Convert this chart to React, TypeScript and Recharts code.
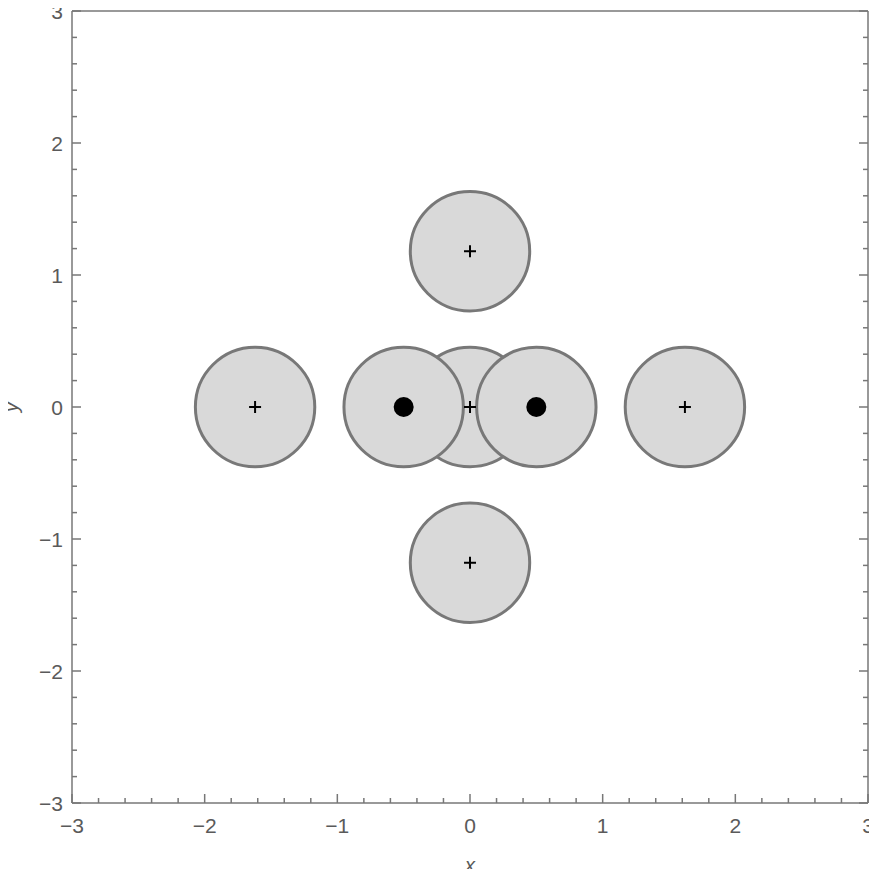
import React from 'react';
import { ScatterChart, Scatter, XAxis, YAxis } from 'recharts';

// ---- data ----
const circleX = [0, -1.62, -0.5, 0.5, 1.62, 0, 0];
const circleY = [0, 0, 0, 0, 0, 1.18, -1.18];
const crossX = [0, -1.62, 0, 1.62, 0];
const crossY = [1.18, 0, 0, 0, -1.18];
const dotX = [-0.5, 0.5];
const dotY = [0, 0];
const CIRCLE_RADIUS = 0.45; // data units

const majorTicks = [-3, -2, -1, 0, 1, 2, 3];
const minorTicks = [
  -2.8, -2.6, -2.4, -2.2, -1.8, -1.6, -1.4, -1.2, -0.8, -0.6, -0.4, -0.2,
  0.2, 0.4, 0.6, 0.8, 1.2, 1.4, 1.6, 1.8, 2.2, 2.4, 2.6, 2.8,
];
const allTicks = [...majorTicks, ...minorTicks];

const toPoints = (xs: number[], ys: number[]) => xs.map((x, i) => ({ x, y: ys[i] }));
const circles = toPoints(circleX, circleY);
const crosses = toPoints(crossX, crossY);
const dots = toPoints(dotX, dotY);

// ---- layout ----
const W = 877;
const H = 877;
const M = { top: 10, right: 8, bottom: 0, left: 0 };
const Y_AXIS_W = 72;
const X_AXIS_H = 74;
const PLOT_W = W - M.left - M.right - Y_AXIS_W - 1;
const PX_PER_UNIT = PLOT_W / 6;

const FRAME = '#777777';
const TEXT = '#5a5a5a';
const FONT = "'Liberation Sans', Arial, sans-serif";
const MAJOR_LEN = 9;
const MINOR_LEN = 5;

const isMajor = (v: number) => majorTicks.includes(v);
const fmt = (v: number) => (v < 0 ? '\u2212' + Math.abs(v) : String(v));

const BottomTick = (p: any) => {
  const v = p.payload.value;
  const len = isMajor(v) ? MAJOR_LEN : MINOR_LEN;
  return (
    <g>
      <line x1={p.x} x2={p.x} y1={p.y} y2={p.y - len} stroke={FRAME} strokeWidth={1.5} />
      {isMajor(v) && (
        <text x={p.x} y={p.y + 30} textAnchor="middle" fill={TEXT} fontSize={21} fontFamily={FONT}>
          {fmt(v)}
        </text>
      )}
    </g>
  );
};
const TopTick = (p: any) => {
  const v = p.payload.value;
  const len = isMajor(v) ? MAJOR_LEN : MINOR_LEN;
  return <line x1={p.x} x2={p.x} y1={p.y} y2={p.y + len} stroke={FRAME} strokeWidth={1.5} />;
};
const LeftTick = (p: any) => {
  const v = p.payload.value;
  const len = isMajor(v) ? MAJOR_LEN : MINOR_LEN;
  return (
    <g>
      <line x1={p.x} x2={p.x + len} y1={p.y} y2={p.y} stroke={FRAME} strokeWidth={1.5} />
      {isMajor(v) && (
        <text x={p.x - 9} y={p.y} dy="0.36em" textAnchor="end" fill={TEXT} fontSize={21} fontFamily={FONT}>
          {fmt(v)}
        </text>
      )}
    </g>
  );
};
const RightTick = (p: any) => {
  const v = p.payload.value;
  const len = isMajor(v) ? MAJOR_LEN : MINOR_LEN;
  return <line x1={p.x} x2={p.x - len} y1={p.y} y2={p.y} stroke={FRAME} strokeWidth={1.5} />;
};

const CircleShape = (p: any) => (
  <circle cx={p.cx} cy={p.cy} r={CIRCLE_RADIUS * PX_PER_UNIT} fill="#d9d9d9" stroke="#787878" strokeWidth={3} />
);
const CrossShape = (p: any) => (
  <g stroke="#000" strokeWidth={2}>
    <line x1={p.cx - 6} x2={p.cx + 6} y1={p.cy} y2={p.cy} />
    <line x1={p.cx} x2={p.cx} y1={p.cy - 6} y2={p.cy + 6} />
  </g>
);
const DotShape = (p: any) => <circle cx={p.cx} cy={p.cy} r={10} fill="#000" />;

const XLabel = (props: any) => {
  const vb = props.viewBox;
  return (
    <text x={vb.x + vb.width / 2} y={vb.y + vb.height - 5} textAnchor="middle" fill={TEXT}
      fontSize={20} fontStyle="italic" fontFamily={FONT}>
      x
    </text>
  );
};
const YLabel = (props: any) => {
  const vb = props.viewBox;
  const cx = vb.x + 11;
  const cy = vb.y + vb.height / 2;
  return (
    <text x={cx} y={cy} textAnchor="middle" dominantBaseline="central" fill={TEXT}
      fontSize={20} fontStyle="italic" fontFamily={FONT} transform={`rotate(-90, ${cx}, ${cy})`}>
      y
    </text>
  );
};

export default function App() {
  const axisLine = { stroke: FRAME, strokeWidth: 1.5 };
  return (
    <div style={{ width: W, height: H, margin: -8, background: '#fff' }}>
      <ScatterChart width={W} height={H} margin={M} style={{ overflow: 'visible' }}>
        <XAxis xAxisId="x" dataKey="x" type="number" domain={[-3, 3]} ticks={allTicks} interval={0}
          orientation="bottom" height={X_AXIS_H} axisLine={axisLine} tickLine={false} tickSize={0}
          tickMargin={0} tick={<BottomTick />} label={<XLabel />} allowDataOverflow />
        <XAxis xAxisId="top" type="number" domain={[-3, 3]} ticks={allTicks} interval={0}
          orientation="top" height={1} axisLine={axisLine} tickLine={false} tickSize={0}
          tickMargin={0} tick={<TopTick />} allowDataOverflow />
        <YAxis yAxisId="y" dataKey="y" type="number" domain={[-3, 3]} ticks={allTicks} interval={0}
          orientation="left" width={Y_AXIS_W} axisLine={axisLine} tickLine={false} tickSize={0}
          tickMargin={0} tick={<LeftTick />} label={<YLabel />} allowDataOverflow />
        <YAxis yAxisId="right" type="number" domain={[-3, 3]} ticks={allTicks} interval={0}
          orientation="right" width={1} axisLine={axisLine} tickLine={false} tickSize={0}
          tickMargin={0} tick={<RightTick />} allowDataOverflow />
        <Scatter xAxisId="x" yAxisId="y" data={circles} shape={<CircleShape />} isAnimationActive={false} />
        <Scatter xAxisId="x" yAxisId="y" data={crosses} shape={<CrossShape />} isAnimationActive={false} />
        <Scatter xAxisId="x" yAxisId="y" data={dots} shape={<DotShape />} isAnimationActive={false} />
        <Scatter xAxisId="top" yAxisId="right" data={[]} isAnimationActive={false} />
      </ScatterChart>
    </div>
  );
}
